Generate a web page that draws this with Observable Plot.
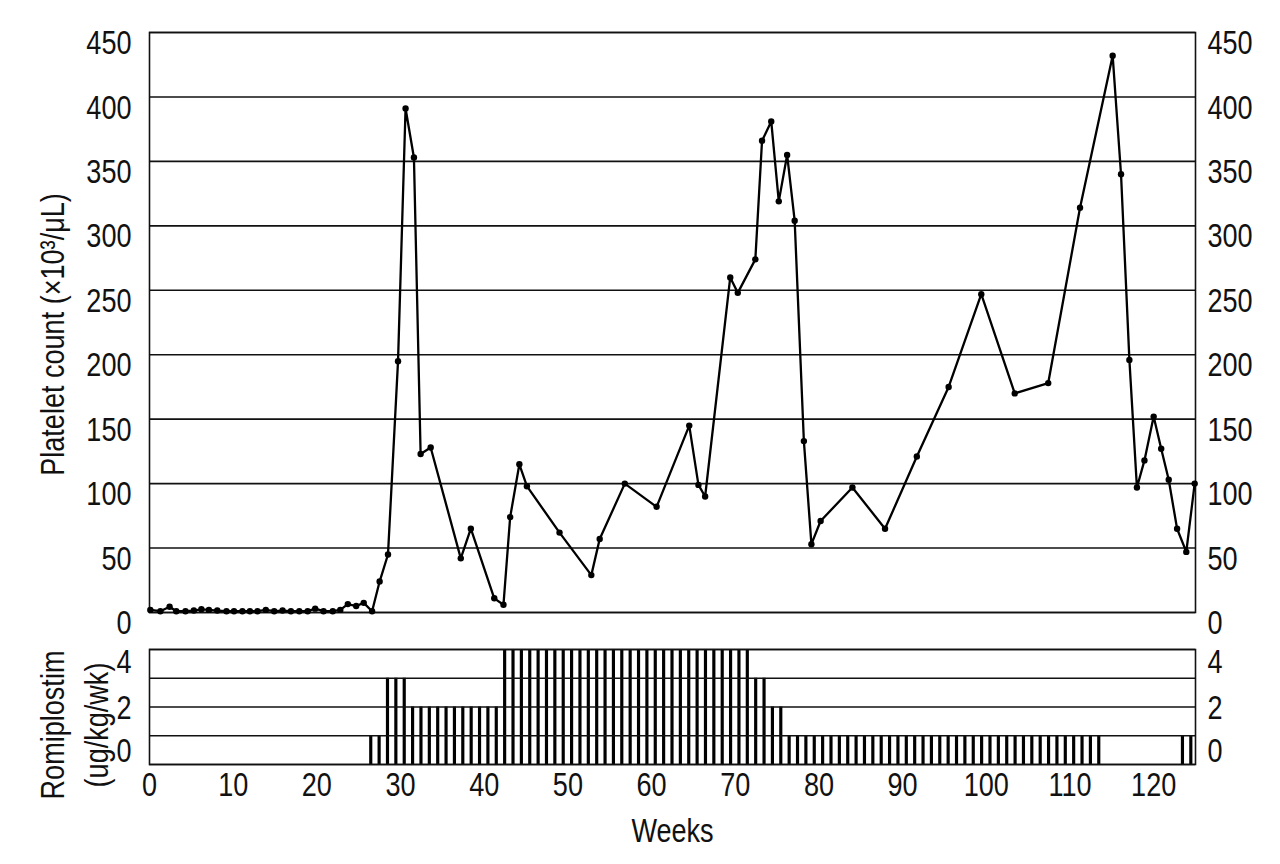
<!DOCTYPE html>
<html>
<head>
<meta charset="utf-8">
<script src="https://cdn.jsdelivr.net/npm/d3@7"></script>
<script src="https://cdn.jsdelivr.net/npm/@observablehq/plot@0.6"></script>
<style>
  html, body { margin: 0; padding: 0; background: #fff; }
  #wrap { position: relative; width: 1280px; height: 864px; background: #fff; }
  #topPanel, #bottomPanel { position: absolute; left: 0; }
  #topPanel { top: 0; }
  #bottomPanel { top: 640px; }
</style>
</head>
<body>
<div id="wrap"><div id="topPanel"></div><div id="bottomPanel"></div></div>
<script>
// ---- Data ----
const weeks = [0.1,1.3,2.4,3.2,4.3,5.3,6.2,7.1,8.1,9.2,10.1,11.1,12.0,12.9,13.9,14.9,15.9,16.9,17.9,18.9,19.8,20.8,21.9,22.8,23.7,24.7,25.6,26.6,
  27.5,28.5,29.7,30.6,31.6,32.4,33.6,37.2,38.4,41.2,42.3,43.1,44.2,45.1,49.0,52.8,53.8,56.8,60.6,64.5,65.6,66.4,69.4,70.3,72.4,73.2,74.3,75.2,76.2,77.1,
  78.2,79.1,80.2,84.0,87.9,91.7,95.5,99.4,103.4,107.4,111.2,115.1,116.1,117.1,118.0,118.9,120.0,120.9,121.8,122.8,123.9,124.9];
const platelets = [2,1,4.5,1,1,1.5,2.5,2,1.5,1,1,1,1,1,2,1,1.5,1,1,1,3,1,1,2,6.5,5,7.5,1,
  24,45,195,391,353,123,128,42,65,11,6,74,115,98,62,29,57,100,82,145,99,90,260,248,274,366,381,319,355,304,
  133,53,71,97,65,121,175,247,170,178,314,432,340,196,97,118,152,127,103,65,47,100];

// Romiplostim dose level per week, weeks 0..124
const doseLevels = [
  0,0,0,0,0,0,0,0,0,0,0,0,0,0,0,0,0,0,0,0,0,0,0,0,0,0,
  1,1,
  3,3,3,
  2,2,2,2,2,2,2,2,2,2,2,
  4,4,4,4,4,4,4,4,4,4,4,4,4,4,4,4,4,4,4,4,4,4,4,4,4,4,4,4,4,4,
  3,3,
  2,2,
  1,1,1,1,1,1,1,1,1,1,1,1,1,1,1,1,1,1,1,1,1,1,1,1,1,1,1,1,1,1,1,1,1,1,1,1,1,1,
  0,0,0,0,0,0,0,0,0,
  1,1
];

const plateletTicks = [0,50,100,150,200,250,300,350,400,450];
const weekTicks = [0,10,20,30,40,50,60,70,80,90,100,110,120];
const doseGrid = [0,1,2,3,4];
const doseTickPos = [0.45,1.95,3.55];
const doseTickLabels = ["0","2","4"];

const plateletTitle = "Platelet count (\u00d710\u00b3/\u03bcL)";
const doseTitle1 = "Romiplostim";
const doseTitle2 = "(ug/kg/wk)";
const xTitle = "Weeks";

// ---- build tables ----
const series = weeks.map((w, i) => ({week: w, value: platelets[i]}));
const doses = doseLevels.map((d, i) => ({week: i, dose: d})).filter(d => d.dose > 0);

const FS = 33;
const FAM = "'Liberation Sans', Arial, sans-serif";
const font = {fontFamily: FAM, fontSize: FS + "px", background: "white", overflow: "visible"};
const txt = {fontSize: FS, fill: "#111"};

const topChart = Plot.plot({
  width: 1280, height: 640,
  marginLeft: 149, marginRight: 85, marginTop: 32, marginBottom: 28,
  style: font,
  x: {domain: [0, 125], axis: null},
  y: {domain: [0, 450], axis: null},
  marks: [
    Plot.ruleY(plateletTicks, {stroke: "#111", strokeWidth: 1.6}),
    Plot.frame({stroke: "#111", strokeWidth: 1.6}),
    Plot.line(series, {x: "week", y: "value", stroke: "#000", strokeWidth: 2.3}),
    Plot.dot(series, {x: "week", y: "value", r: 3.2, fill: "#000", stroke: "none"}),
    Plot.text(plateletTicks, {y: d => d, text: d => String(d), frameAnchor: "left", textAnchor: "end", lineAnchor: "middle", dx: -18, dy: 11, ...txt}),
    Plot.text(plateletTicks, {y: d => d, text: d => String(d), frameAnchor: "right", textAnchor: "start", lineAnchor: "middle", dx: 12, dy: 11, ...txt}),
    Plot.text([plateletTitle], {text: d => d, frameAnchor: "left", textAnchor: "middle", lineAnchor: "middle", dx: -96, dy: 12, rotate: -90, ...txt})
  ]
});
document.getElementById("topPanel").appendChild(topChart);

const bottomChart = Plot.plot({
  width: 1280, height: 224,
  marginLeft: 149, marginRight: 85, marginTop: 9, marginBottom: 100,
  style: font,
  x: {domain: [0, 125], axis: null},
  y: {domain: [0, 4], axis: null},
  marks: [
    Plot.rectY(doses, {x1: "week", x2: d => d.week + 1, y: "dose", fill: "#000", insetLeft: 2.6, insetRight: 2.6}),
    Plot.ruleY(doseGrid, {stroke: "#111", strokeWidth: 1.6}),
    Plot.frame({stroke: "#111", strokeWidth: 1.6}),
    Plot.text(weekTicks, {x: d => d, text: d => String(d), frameAnchor: "bottom", lineAnchor: "middle", dy: 21, ...txt}),
    Plot.text(doseTickPos, {y: d => d, text: (d, i) => doseTickLabels[i], frameAnchor: "left", textAnchor: "end", lineAnchor: "middle", dx: -18, ...txt}),
    Plot.text(doseTickPos, {y: d => d, text: (d, i) => doseTickLabels[i], frameAnchor: "right", textAnchor: "start", lineAnchor: "middle", dx: 12, ...txt}),
    Plot.text([xTitle], {text: d => d, frameAnchor: "bottom", lineAnchor: "middle", dy: 67, ...txt}),
    Plot.text([doseTitle1], {text: d => d, frameAnchor: "left", textAnchor: "middle", lineAnchor: "middle", dx: -96, dy: 18, rotate: -90, ...txt}),
    Plot.text([doseTitle2], {text: d => d, frameAnchor: "left", textAnchor: "middle", lineAnchor: "middle", dx: -52, dy: 18, rotate: -90, ...txt})
  ]
});
document.getElementById("bottomPanel").appendChild(bottomChart);

// condensed look: narrow the glyphs of every label to ~82% of their natural width
for (const svg of [topChart, bottomChart]) {
  svg.querySelectorAll("text").forEach(el => {
    const len = el.getComputedTextLength();
    if (len > 0) {
      el.setAttribute("textLength", (len * 0.82).toFixed(2));
      el.setAttribute("lengthAdjust", "spacingAndGlyphs");
    }
  });
}
</script>
</body>
</html>
